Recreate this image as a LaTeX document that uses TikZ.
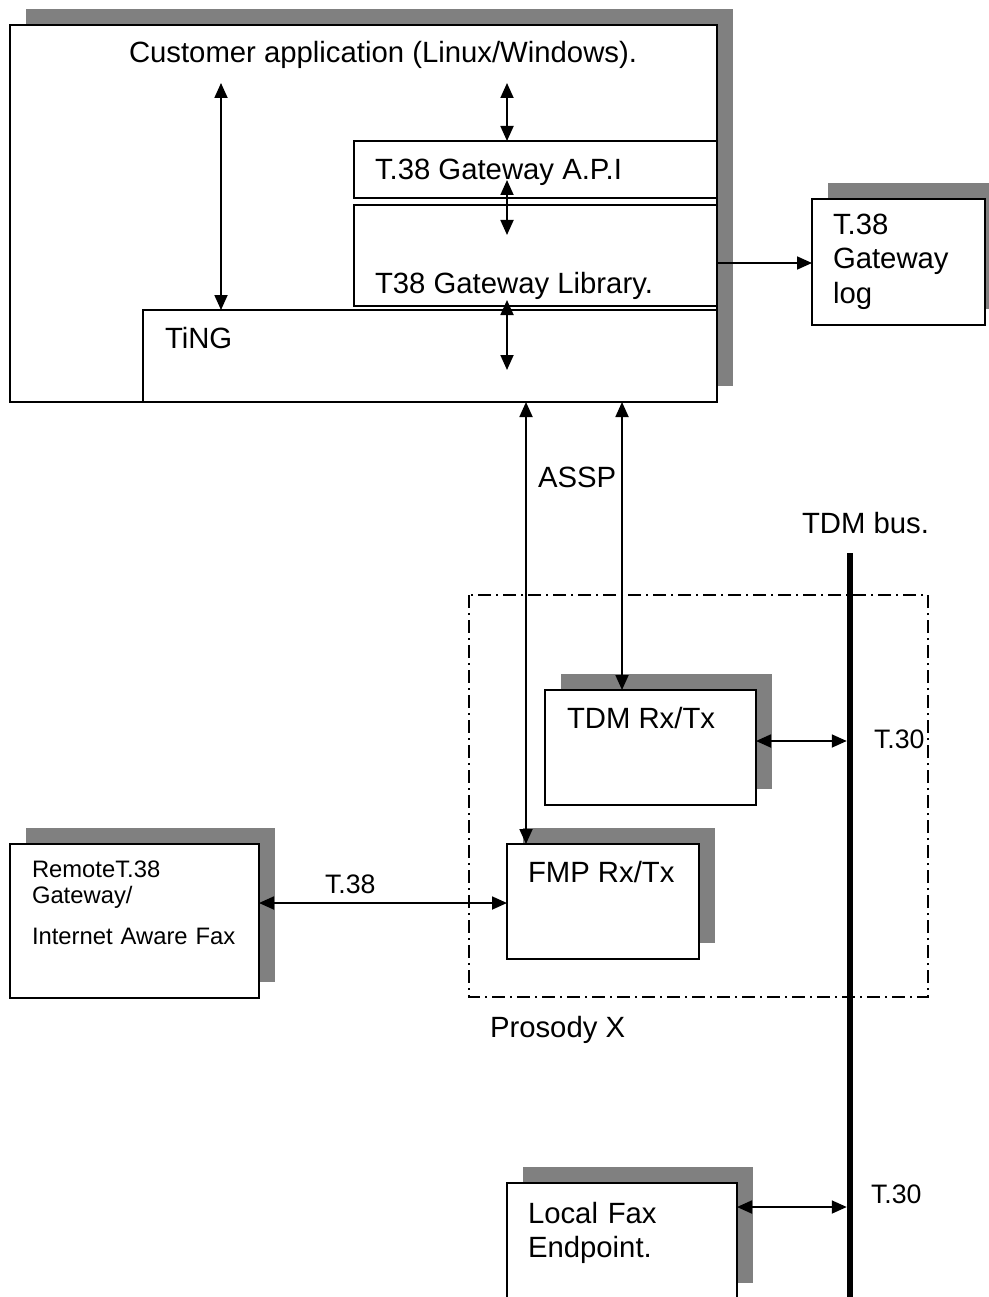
\documentclass[tikz,border=0pt]{standalone}
\usepackage{fontspec}
\setmainfont{Liberation Sans}
\usetikzlibrary{arrows.meta}
\definecolor{shade}{HTML}{808080}
\newcommand\fontA{\fontsize{29.3}{34}\selectfont}
\newcommand\fontB{\fontsize{23.8}{26}\selectfont}
\newcommand\fontC{\fontsize{26.7}{30}\selectfont}
\tikzset{
  boxnode/.style={draw, line width=2pt, fill=white, inner sep=0pt, outer sep=0pt},
  shadowfill/.style={fill=shade, draw=none},
  lbl/.style={inner sep=0pt, outer sep=0pt, anchor=base west, font=\fontA},
  conn/.style={line width=1.8pt},
  dbl/.style={conn, {Triangle[length=15pt,width=13pt]}-{Triangle[length=15pt,width=13pt]}},
  sgl/.style={conn, -{Triangle[length=15pt,width=13pt]}},
  dashdotline/.style={line width=1.4pt, dash pattern=on 13pt off 5pt on 2pt off 5pt}
}
\begin{document}
\begin{tikzpicture}[x=1pt,y=-1pt]
\useasboundingbox[fill=white] (0,0) rectangle (988,1297);

% main block
\fill[shadowfill] (26,9) rectangle (733,386);
\node[boxnode, minimum width=707pt, minimum height=377pt] (main) at (363.5,213.5) {};
\node[boxnode, minimum width=363pt, minimum height=57pt] (api) at (535.5,169.5) {};
\node[boxnode, minimum width=363pt, minimum height=101pt] (lib) at (535.5,255.5) {};
\node[boxnode, minimum width=574pt, minimum height=92pt] (ting) at (430,356) {};

\node[lbl] (tcust) at (129,63) {Customer application (Linux/Windows).};
\node[lbl] (tapi) at (375,180) {T.38 Gateway A.P.I};
\node[lbl] (tlib) at (375,293) {T38 Gateway Library.};
\node[lbl] (tting) at (165,348) {TiNG};

% log
\fill[shadowfill] (828,183) rectangle (1001,309);
\node[boxnode, minimum width=173pt, minimum height=126pt] (log) at (898.5,262) {};
\node[lbl, text width=150pt, align=left] (tlog) at (833,235) {T.38\\Gateway\\log};

% TDM bus
\node[fill=black, inner sep=0pt, outer sep=0pt, minimum width=6.5pt, minimum height=750pt] (bus) at (850,928) {};
\node[lbl] (tbus) at (802,533) {TDM bus.};

% Prosody X frame
\draw[dashdotline] (469,595) rectangle (928,997);
\node[lbl] (tpros) at (490,1037) {Prosody X};

% TDM Rx/Tx
\fill[shadowfill] (561,674) rectangle (772,789);
\node[boxnode, minimum width=211pt, minimum height=115pt] (tdm) at (650.5,747.5) {};
\node[lbl] (ttdm) at (567,728) {TDM Rx/Tx};

% FMP Rx/Tx
\fill[shadowfill] (523,828) rectangle (715,943);
\node[boxnode, minimum width=192pt, minimum height=115pt] (fmp) at (603,901.5) {};
\node[lbl] (tfmp) at (528,882) {FMP Rx/Tx};

% Remote
\fill[shadowfill] (26,828) rectangle (275,982);
\node[boxnode, minimum width=249pt, minimum height=154pt] (remote) at (134.5,921) {};
\node[lbl, font=\fontB, text width=220pt, align=left] (tremote) at (32,877) {RemoteT.38\\Gateway/\\[15pt]Internet Aware Fax};

% Local fax
\fill[shadowfill] (523,1167) rectangle (753,1283);
\node[boxnode, minimum width=230pt, minimum height=127pt] (local) at (622,1246.5) {};
\node[lbl, text width=200pt, align=left] (tlocal) at (528,1223) {Local Fax\\Endpoint.};

% labels
\node[lbl] (tassp) at (538,487) {ASSP};
\node[lbl, font=\fontC] (tt38) at (325,893) {T.38};
\node[lbl, font=\fontC] (tt30a) at (874,748) {T.30};
\node[lbl, font=\fontC] (tt30b) at (871,1203) {T.30};

% helper coordinates
\coordinate (cA) at (221,83);
\coordinate (cB) at (507,83);
\coordinate (cC) at (507,180);
\coordinate (cD) at (507,235);
\coordinate (cE) at (507,300);
\coordinate (cF) at (507,370);
\coordinate (xa) at (526,0);
\coordinate (xt) at (622,0);
\coordinate (ylog) at (0,263);
\coordinate (ytdm) at (0,741);
\coordinate (yt38) at (0,903);
\coordinate (yloc) at (0,1207);

% connectors
\draw[dbl] (cA) -- (cA |- ting.north);
\draw[dbl] (cB) -- (cB |- api.north);
\draw[dbl] (cC) -- (cD);
\draw[dbl] (cE) -- (cF);
\draw[sgl] (main.east |- ylog) -- (log.west |- ylog);
\draw[dbl] (ting.south -| xa) -- (fmp.north -| xa);
\draw[dbl] (ting.south -| xt) -- (tdm.north -| xt);
\draw[dbl] (tdm.east |- ytdm) -- (bus.west |- ytdm);
\draw[dbl] (remote.east |- yt38) -- (fmp.west |- yt38);
\draw[dbl] (local.east |- yloc) -- (bus.west |- yloc);
\end{tikzpicture}
\end{document}
